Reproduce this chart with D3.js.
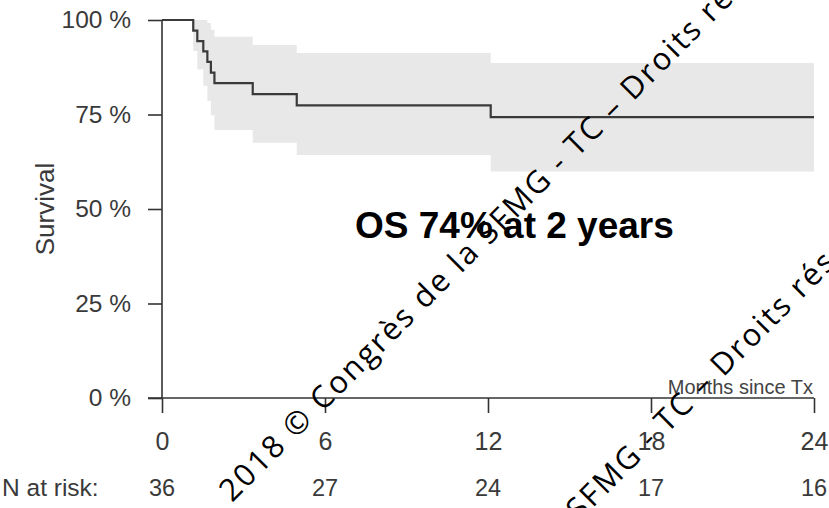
<!DOCTYPE html>
<html>
<head>
<meta charset="utf-8">
<script src="https://cdn.jsdelivr.net/npm/d3@7"></script>
<style>
  html, body { margin: 0; padding: 0; background: #fff; }
  svg { display: block; }
</style>
</head>
<body>
<svg id="chart" width="829" height="508"></svg>
<script>
// Kaplan-Meier overall survival after transplant
const eventMonths = [1.15, 1.30, 1.52, 1.67, 1.80, 1.93, 3.34, 4.96, 12.10];
const survival    = [97.2, 94.4, 91.7, 88.9, 86.1, 83.3, 80.4, 77.4, 74.3];
const ciLower     = [91.8, 86.9, 82.6, 78.6, 74.8, 70.9, 67.5, 64.3, 59.9];
const ciUpper     = [100, 100, 100, 99.2, 97.4, 95.6, 93.4, 91.3, 88.6];
const followUpEnd = 24;

const xTicks = [0, 6, 12, 18, 24];
const yTicks = [0, 25, 50, 75, 100];
const nAtRisk = [36, 27, 24, 17, 16];

const annotation = "OS 74% at 2 years";
const watermark = "2018 © Congrès de la SFMG - TC –  Droits réservés";

const svg = d3.select("#chart");
const x = d3.scaleLinear().domain([0, 24]).range([162, 814]);
const y = d3.scaleLinear().domain([0, 100]).range([398, 20]);

const axisColor = "#333";
const labelColor = "#3a3a3a";
const font = "'Liberation Sans', Arial, Helvetica, sans-serif";

// confidence band
const bandPts = eventMonths.map((t, i) => ({t, lo: ciLower[i], hi: ciUpper[i]}));
bandPts.push({t: followUpEnd, lo: ciLower[ciLower.length - 1], hi: ciUpper[ciUpper.length - 1]});
svg.append("path")
  .datum(bandPts)
  .attr("fill", "#e8e8e8")
  .attr("d", d3.area().curve(d3.curveStepAfter)
    .x(d => x(d.t)).y0(d => y(d.lo)).y1(d => y(d.hi)));

// y axis
const yAxis = svg.append("g").attr("transform", `translate(${x(0)},0)`)
  .call(d3.axisLeft(y).tickValues(yTicks).tickSize(14).tickPadding(17)
    .tickFormat(d => d + " %"));
yAxis.select(".domain").attr("d", `M0,${y(100)}V${y(0)}`);

// x axis
const xAxis = svg.append("g").attr("transform", `translate(0,${y(0)})`)
  .call(d3.axisBottom(x).tickValues(xTicks).tickSize(15)
    .tickFormat(d3.format("d")));
xAxis.select(".domain").attr("d", `M${x(0) - 14},0H${x(24)}`);

[yAxis, xAxis].forEach(g => {
  g.selectAll(".domain").attr("stroke", axisColor).attr("stroke-width", 1.6);
  g.selectAll(".tick line").attr("stroke", axisColor).attr("stroke-width", 1.6);
  g.selectAll(".tick text")
    .attr("fill", labelColor)
    .style("font-family", font);
});
yAxis.selectAll(".tick text").style("font-size", "24.5px");
xAxis.selectAll(".tick text").attr("dy", null).attr("y", 52).style("font-size", "25px");

// survival step curve
const curvePts = [{t: 0, s: 100}].concat(eventMonths.map((t, i) => ({t, s: survival[i]})));
curvePts.push({t: followUpEnd, s: survival[survival.length - 1]});
svg.append("path")
  .datum(curvePts)
  .attr("fill", "none")
  .attr("stroke", "#3a3a3a")
  .attr("stroke-width", 2.2)
  .attr("d", d3.line().curve(d3.curveStepAfter).x(d => x(d.t)).y(d => y(d.s)));

// axis titles
svg.append("text")
  .attr("transform", `translate(54,${y(50)}) rotate(-90)`)
  .attr("text-anchor", "middle")
  .attr("fill", labelColor)
  .style("font-family", font).style("font-size", "26px")
  .text("Survival");

svg.append("text")
  .attr("x", 813).attr("y", 394)
  .attr("text-anchor", "end")
  .attr("fill", "#444")
  .style("font-family", font).style("font-size", "20px")
  .text("Months since Tx");

// numbers at risk
svg.append("text")
  .attr("x", 2).attr("y", 496)
  .attr("fill", labelColor)
  .style("font-family", font).style("font-size", "24.5px")
  .text("N at risk:");
svg.selectAll("text.risk")
  .data(xTicks)
  .join("text")
  .attr("class", "risk")
  .attr("x", d => x(d)).attr("y", 496)
  .attr("text-anchor", "middle")
  .attr("fill", labelColor)
  .style("font-family", font).style("font-size", "23.5px")
  .text((d, i) => nAtRisk[i]);

// headline
svg.append("text")
  .attr("x", 355).attr("y", 238)
  .attr("fill", "#000")
  .style("font-family", font).style("font-size", "37px").style("font-weight", "bold")
  .text(annotation);

// copyright watermark
[[232, 503], [322, 779]].forEach(([wx, wy]) => {
  svg.append("text")
    .attr("transform", `translate(${wx},${wy}) rotate(-45)`)
    .attr("fill", "#000")
    .style("font-family", "'Open Sans', sans-serif").style("font-size", "31px")
    .style("letter-spacing", "2.2px")
    .text(watermark);
});
</script>
</body>
</html>
